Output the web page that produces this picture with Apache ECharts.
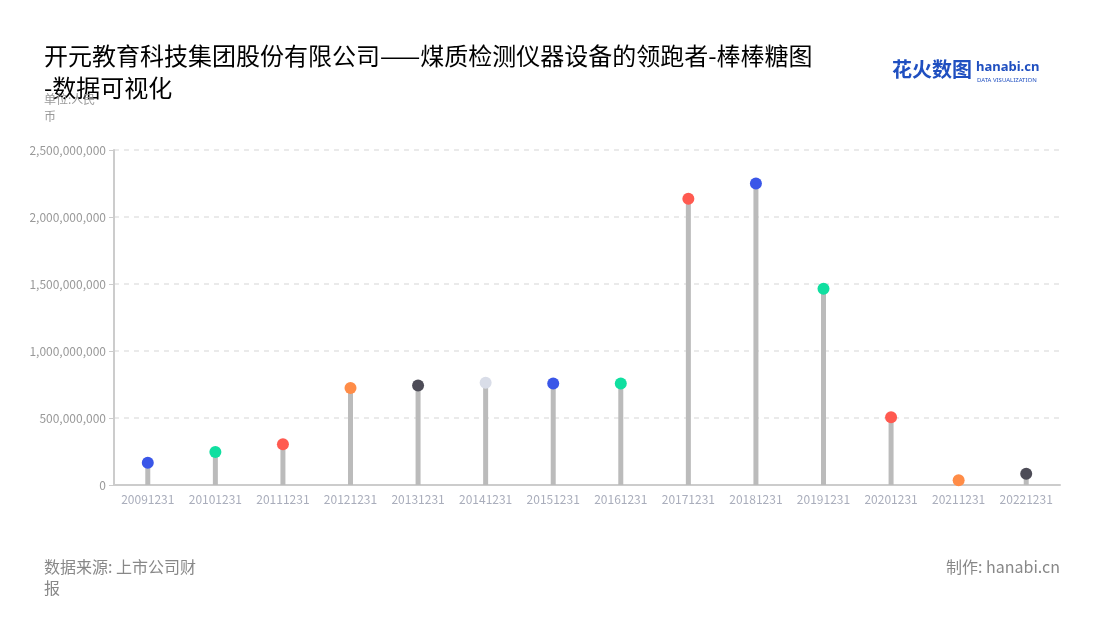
<!DOCTYPE html>
<html>
<head>
<meta charset="utf-8">
<script src="https://cdn.jsdelivr.net/npm/echarts@6/dist/echarts.min.js"></script>
<style>
  html, body { margin: 0; padding: 0; background: #fff; }
  #main { width: 1100px; height: 620px; }
</style>
</head>
<body>
<div id="main"></div>
<script>
var dates = ['20091231', '20101231', '20111231', '20121231', '20131231', '20141231', '20151231',
             '20161231', '20171231', '20181231', '20191231', '20201231', '20211231', '20221231'];
var revenue = [166000000, 246000000, 304000000, 724000000, 743000000, 763000000, 758000000,
               758000000, 2137000000, 2250000000, 1465000000, 505000000, 35000000, 84000000];
var dotColors = ['#3a56e8', '#10dfa0', '#ff5a50', '#ff8c47', '#4d4c57', '#d9dde8', '#3a56e8',
                 '#10dfa0', '#ff5a50', '#3a56e8', '#10dfa0', '#ff5a50', '#ff8c47', '#4d4c57'];

var font = '"Noto Sans CJK SC", "Noto Sans", sans-serif';

function commas(v) {
  return String(v).replace(/\B(?=(\d{3})+(?!\d))/g, ',');
}

var myChart = echarts.init(document.getElementById('main'));

var option = {
  backgroundColor: '#fff',
  textStyle: { fontFamily: font },
  title: [
    {
      text: '开元教育科技集团股份有限公司——煤质检测仪器设备的领跑者-棒棒糖图\n-数据可视化',
      left: 39, top: 35,
      textStyle: { fontSize: 24, fontWeight: 'normal', color: '#000', lineHeight: 32, fontFamily: font }
    },
    {
      text: '单位:人民\n币',
      left: 39, top: 86,
      textStyle: { fontSize: 12, fontWeight: 'normal', color: '#999', lineHeight: 17, fontFamily: font }
    },
    {
      text: '数据来源: 上市公司财\n报',
      left: 39, top: 551,
      textStyle: { fontSize: 16, fontWeight: 'normal', color: '#888', lineHeight: 21, fontFamily: font }
    },
    {
      text: '制作: hanabi.cn',
      right: 35, top: 551,
      textStyle: { fontSize: 16, fontWeight: 'normal', color: '#888', lineHeight: 21, fontFamily: font }
    }
  ],
  graphic: [
    {
      type: 'text', left: 892, top: 59,
      style: { text: '花火数图', fill: '#1f4fc0', font: 'bold 20px "Noto Sans CJK SC"' }
    },
    {
      type: 'text', left: 976, top: 61,
      style: { text: 'hanabi.cn', fill: '#1f4fc0', font: 'bold 13px "Noto Sans"' }
    },
    {
      type: 'text', left: 977, top: 77,
      style: { text: 'DATA VISUALIZATION', fill: '#1f4fc0', font: '6px "Noto Sans"' }
    }
  ],
  grid: { left: 114, right: 40, top: 150, bottom: 135 },
  xAxis: {
    type: 'category',
    data: dates,
    axisLine: { lineStyle: { color: '#ccc', width: 2 } },
    axisTick: { alignWithLabel: true, lineStyle: { color: '#ccc' } },
    axisLabel: { color: '#a9adbb', fontSize: 12, margin: 8, interval: 0 }
  },
  yAxis: {
    type: 'value',
    min: 0, max: 2500000000, interval: 500000000,
    axisLine: { show: true, lineStyle: { color: '#ccc', width: 2 } },
    axisTick: { show: true, length: 5, lineStyle: { color: '#ccc' } },
    axisLabel: { color: '#999', fontSize: 12, margin: 8, formatter: commas },
    splitLine: { lineStyle: { color: '#e3e3e3', type: [5, 5], width: 1.5 } }
  },
  series: [
    {
      type: 'bar',
      data: revenue,
      barWidth: 5,
      itemStyle: { color: '#bbbbbb' },
      silent: true
    },
    {
      type: 'scatter',
      data: revenue.map(function (v, i) {
        return { value: v, itemStyle: { color: dotColors[i], opacity: 1 } };
      }),
      symbolSize: 12,
      z: 5
    }
  ]
};

myChart.setOption(option);
</script>
</body>
</html>
